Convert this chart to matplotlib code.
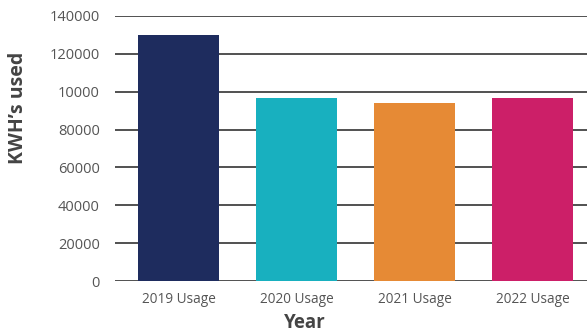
import matplotlib
matplotlib.use('Agg')
from matplotlib import pyplot as plt

categories = ["2019 Usage", "2020 Usage", "2021 Usage", "2022 Usage"]
usage = [130000, 96800, 94200, 96800]
colors = ["#1e2c5e", "#18b0bf", "#e68a35", "#cc1f68"]
ytick_values = [0, 20000, 40000, 60000, 80000, 100000, 120000, 140000]
# the original chart labels 100000 as "10000"
ytick_labels = ["0", "20000", "40000", "60000", "80000", "10000", "120000", "140000"]

plt.rcParams['font.family'] = ['Open Sans', 'DejaVu Sans']

fig = plt.figure(figsize=(5.87, 3.33), dpi=100)
ax = fig.add_axes([0.196, 0.156, 0.804, 0.796])

ax.set_axisbelow(True)
ax.yaxis.grid(True, color="#222222", linewidth=1.1)
ax.bar(range(len(categories)), usage, width=0.686, color=colors, zorder=3)

ax.set_xlim(-0.54, 3.46)
ax.set_ylim(0, 140000)
ax.set_yticks(ytick_values)
ax.set_yticklabels(ytick_labels, fontsize=10.5, color="#555555")
ax.set_xticks(range(len(categories)))
ax.set_xticklabels(categories, fontsize=9.8, color="#555555")
ax.tick_params(axis='y', length=0, pad=11)
ax.tick_params(axis='x', length=0, pad=8)

for s in ax.spines.values():
    s.set_visible(False)

ax.set_ylabel("KWH\u2019s used", fontsize=14, fontweight='bold', color="#444444", va='center')
ax.yaxis.set_label_coords(-0.205, 0.655)
ax.set_xlabel("Year", fontsize=13.5, fontweight='bold', color="#444444", va='center')
ax.xaxis.set_label_coords(0.402, -0.158)

fig.savefig("out.png", dpi=100)
plt.close(fig)
